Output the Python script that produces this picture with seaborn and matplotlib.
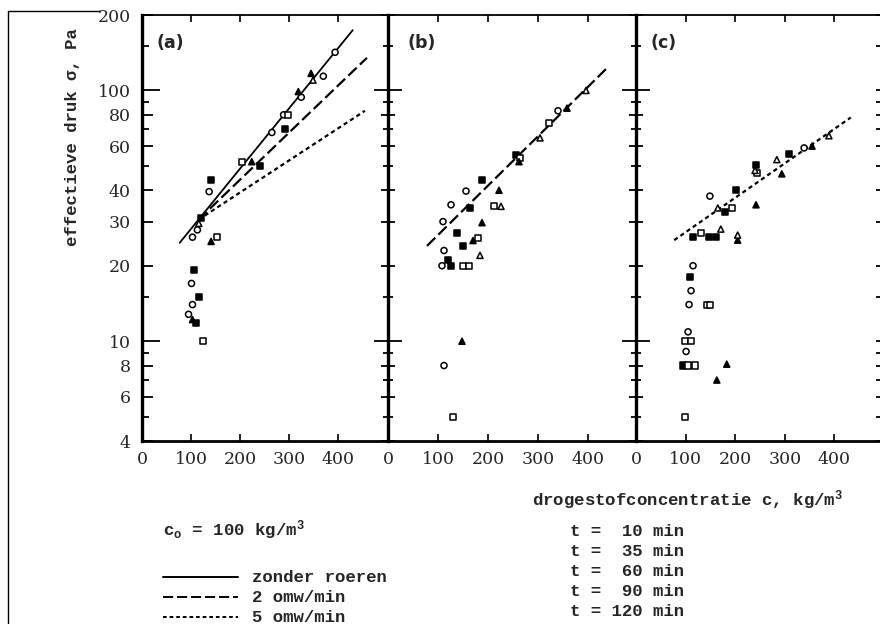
import matplotlib
matplotlib.use("Agg")
import matplotlib.pyplot as plt
import seaborn as sns
import pandas as pd
from matplotlib.lines import Line2D

# ---------------- data ----------------
time_labels = ["t =  10 min", "t =  35 min", "t =  60 min", "t =  90 min", "t = 120 min"]
time_markers = ["o", "s", "s", "^", "^"]
time_fill = ["white", "black", "white", "black", "white"]

# panel (a)
a_c = [137, 113, 103, 101, 103, 95, 265, 289, 325, 370, 394,
       141, 121, 107, 117, 110, 240, 291,
       154, 125, 204, 297,
       141, 103, 224, 319, 345,
       349, 116]
a_sigma = [39.5, 27.8, 26, 17, 14, 12.8, 68, 80, 94, 114, 142,
           44, 31, 19.2, 15, 11.8, 50, 70,
           26, 10, 52, 80,
           25, 12.2, 52, 99, 117,
           110, 29.5]
a_time = ["t =  10 min"] * 11 + ["t =  35 min"] * 7 + ["t =  60 min"] * 4 + \
         ["t =  90 min"] * 5 + ["t = 120 min"] * 2

# panel (b)
b_c = [156, 126, 110, 112, 108, 112, 340,
       256, 188, 164, 138, 150, 120, 126,
       264, 212, 180, 150, 162, 130, 322,
       262, 222, 188, 170, 148, 358,
       226, 184, 304, 396]
b_sigma = [39.7, 35, 30, 23, 20, 8, 83,
           55.5, 44, 34, 27, 24, 21, 20,
           54, 34.5, 25.8, 20, 20, 5, 74,
           52, 40, 29.7, 25.2, 10, 85,
           34.5, 22, 64.7, 100]
b_time = ["t =  10 min"] * 7 + ["t =  35 min"] * 7 + ["t =  60 min"] * 7 + \
         ["t =  90 min"] * 6 + ["t = 120 min"] * 4

# panel (c)
c_c = [149, 115, 111, 107, 105, 101, 339,
       242, 202, 179, 115, 147, 161, 109, 95, 308,
       244, 194, 131, 143, 149, 99, 111, 105, 119, 99,
       242, 205, 183, 163, 294, 355,
       165, 171, 240, 284, 389, 205]
c_sigma = [37.9, 20, 15.9, 14, 10.9, 9.1, 59,
           50.5, 40, 32.7, 26, 26, 26, 18, 8, 56,
           47, 34, 27, 14, 14, 10, 10, 8, 8, 5,
           35, 25.3, 8.1, 7, 46.5, 60,
           34, 28, 48, 53, 66, 26.5]
c_time = ["t =  10 min"] * 7 + ["t =  35 min"] * 9 + ["t =  60 min"] * 10 + \
         ["t =  90 min"] * 6 + ["t = 120 min"] * 6

# fitted lines (end points)
a_solid_c, a_solid_s = [77, 430], [24.7, 174]
a_dash_c, a_dash_s = [115, 459], [30.5, 135]
a_dot_c, a_dot_s = [115, 455], [30.5, 83]
b_dash_c, b_dash_s = [78, 440], [24, 124]
c_dot_c, c_dot_s = [77, 433], [25.3, 78]

y_major = [4, 6, 8, 10, 20, 30, 40, 60, 80, 100, 200]
y_minor = [5, 7, 9, 15, 50, 70, 90, 150]
x_ticks = [0, 100, 200, 300, 400]

# ---------------- styling ----------------
sns.set_theme(style="white")
plt.rcParams["font.family"] = ["DejaVu Serif"]
plt.rcParams["mathtext.fontset"] = "dejavuserif"

W, H = 880, 624
fig = plt.figure(figsize=(8.8, 6.24), dpi=100)

def fx(px):
    return px / W

def fy(py):
    return 1 - py / H

top, bot = 15, 441
ax_a = fig.add_axes([fx(142), fy(bot), fx(388 - 142), (bot - top) / H])
ax_b = fig.add_axes([fx(388), fy(bot), fx(636 - 388), (bot - top) / H])
ax_c = fig.add_axes([fx(636), fy(bot), fx(879 - 636), (bot - top) / H])

marker_map = dict(zip(time_labels, time_markers))
fill_map = dict(zip(time_labels, time_fill))

SOLID = "-"
DASH = (0, (5.2, 2.0))
DOT = (0, (1.9, 1.5))

def draw_points(ax, c, s, t):
    df = pd.DataFrame({"c": c, "sigma": s, "t": t})
    sns.scatterplot(data=df, x="c", y="sigma", hue="t", style="t",
                    hue_order=time_labels, style_order=time_labels,
                    markers=marker_map, palette=fill_map,
                    edgecolor="black", linewidth=1.1, s=19, legend=False,
                    ax=ax, zorder=3)

def draw_line(ax, c, s, ls, lw=1.5):
    sns.lineplot(x=c, y=s, ax=ax, color="black", linestyle=ls, linewidth=lw,
                 zorder=2)

draw_line(ax_a, a_solid_c, a_solid_s, SOLID, 1.3)
draw_line(ax_a, a_dash_c, a_dash_s, DASH, 1.6)
draw_line(ax_a, a_dot_c, a_dot_s, DOT, 1.6)
draw_points(ax_a, a_c, a_sigma, a_time)

draw_line(ax_b, b_dash_c, b_dash_s, DASH, 1.6)
draw_points(ax_b, b_c, b_sigma, b_time)

draw_line(ax_c, c_dot_c, c_dot_s, DOT, 1.6)
draw_points(ax_c, c_c, c_sigma, c_time)

xlims = [(0, 502), (0, 496), (0, 490)]
labels = ["(a)", "(b)", "(c)"]
label_x = [0.06, 0.077, 0.058]
for i, (ax, xl) in enumerate(zip([ax_a, ax_b, ax_c], xlims)):
    ax.set_yscale("log")
    ax.set_ylim(4, 200)
    ax.set_xlim(*xl)
    ax.set_facecolor("white")
    ax.set_xlabel("")
    ax.set_ylabel("")
    ax.set_yticks(y_major)
    ax.set_yticks(y_minor, minor=True)
    ax.set_xticks(x_ticks)
    ax.set_xticklabels([str(v) for v in x_ticks], fontsize=12.5)
    ax.tick_params(axis="x", which="both", direction="in", top=True, bottom=True,
                   length=5, width=1.2, color="black", pad=7)
    ax.grid(False)
    for sp in ax.spines.values():
        sp.set_color("black")
    ax.spines["left"].set_linewidth(2.4)
    ax.spines["bottom"].set_linewidth(2.0)
    ax.spines["top"].set_linewidth(1.3)
    ax.spines["right"].set_visible(False)
    ax.text(label_x[i], 0.934, labels[i], transform=ax.transAxes,
            fontsize=12.5, fontweight="bold", family="DejaVu Sans",
            ha="left", va="center")
    if i == 0:
        ax.set_yticklabels([str(v) for v in y_major], fontsize=12.5)
        ax.tick_params(axis="y", which="major", direction="in", length=8,
                       width=1.3, color="black", pad=8, left=True, right=False)
        ax.tick_params(axis="y", which="minor", direction="in", length=5,
                       width=1.3, color="black", left=True, right=False)
        ax.yaxis.set_minor_formatter(plt.NullFormatter())
    else:
        ax.set_yticklabels([])
        ax.yaxis.set_minor_formatter(plt.NullFormatter())
        ax.tick_params(axis="y", which="major", direction="inout", length=10,
                       width=1.3, color="black", left=True,
                       right=(i == 2), labelleft=False)
        ax.tick_params(axis="y", which="minor", direction="inout", length=7,
                       width=1.3, color="black", left=True,
                       right=(i == 2), labelleft=False)

fig.canvas.draw()
# longer ticks at decades
for i, ax in enumerate([ax_a, ax_b, ax_c]):
    for tick, v in zip(ax.yaxis.get_major_ticks(), y_major):
        if v in (10, 100):
            tick.tick1line.set_markersize(13 if i == 0 else 20)
    if i == 2:
        for tick in ax.yaxis.get_major_ticks():
            tick.tick2line.set_markersize(5)
        for tick in ax.yaxis.get_minor_ticks():
            tick.tick2line.set_markersize(4)

mono = ["Liberation Mono", "DejaVu Sans Mono"]
fs = 12.5
fig.text(fx(72), fy(137), "effectieve druk σ, Pa", rotation=90, family=mono,
         fontweight="bold", fontsize=fs, ha="center", va="center")
fig.text(fx(532), fy(500), r"drogestofconcentratie c, kg/m$^\mathregular{3}$",
         family=mono, fontweight="bold", fontsize=fs, ha="left", va="center")
fig.text(fx(163), fy(530), r"c$_\mathregular{o}$ = 100 kg/m$^\mathregular{3}$",
         family=mono, fontweight="bold", fontsize=fs, ha="left", va="center")

legend_texts = ["zonder roeren", "2 omw/min", "5 omw/min"]
legend_styles = [SOLID, DASH, DOT]
legend_y = [577, 597, 617]
for txt, ls, y in zip(legend_texts, legend_styles, legend_y):
    fig.add_artist(Line2D([fx(163), fx(238)], [fy(y), fy(y)], color="black",
                          linestyle=ls, linewidth=1.4, transform=fig.transFigure))
    fig.text(fx(252), fy(y), txt, family=mono, fontweight="bold", fontsize=fs,
             ha="left", va="center")

for k, txt in enumerate(time_labels):
    fig.text(fx(570), fy(532 + 20 * k), txt, family=mono, fontweight="bold",
             fontsize=fs, ha="left", va="center")

# scan border lines
fig.add_artist(Line2D([fx(8), fx(8)], [0, fy(11)], color="black", linewidth=1.0,
                      transform=fig.transFigure))
fig.add_artist(Line2D([fx(8), fx(100)], [fy(11), fy(11)], color="black",
                      linewidth=1.0, transform=fig.transFigure))

fig.savefig("out.png", dpi=100, facecolor="white")
